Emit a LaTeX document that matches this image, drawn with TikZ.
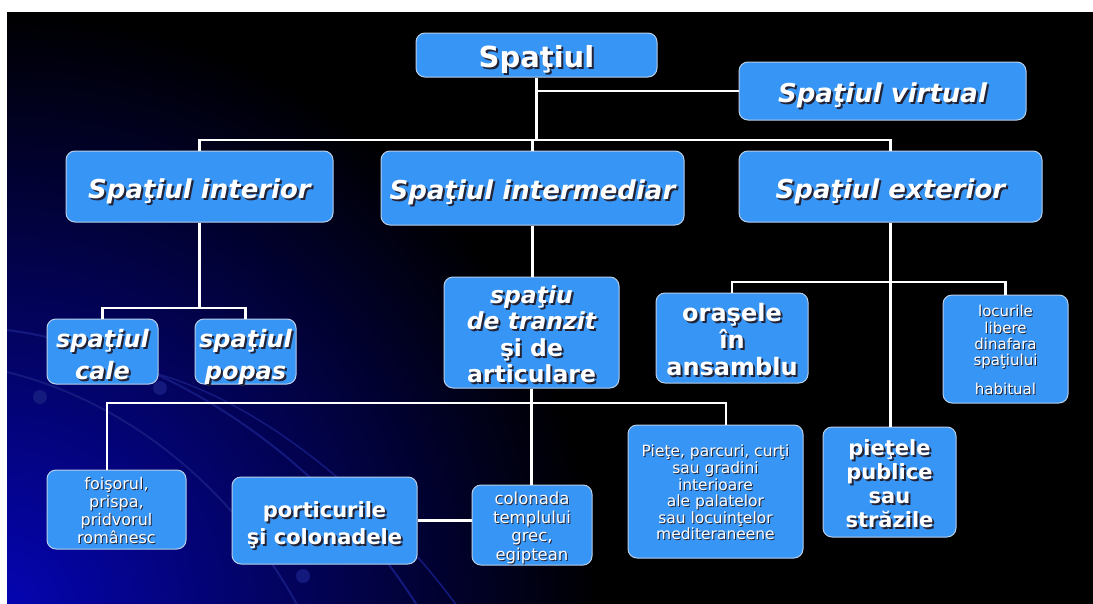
\documentclass[tikz,border=0pt]{standalone}
\usepackage{fontspec}
\setmainfont{DejaVu Sans}
\usetikzlibrary{positioning, calc}

\definecolor{boxblue}{RGB}{55,150,245}
\definecolor{boxedge}{RGB}{185,205,230}
\definecolor{shadow}{RGB}{35,35,55}
\definecolor{glow}{RGB}{5,5,180}
\definecolor{arcblue}{RGB}{20,25,125}

% white text with a dark drop shadow, lines split by \\
\newcommand{\sh}[2][1.8pt]{%
  \raisebox{-.22em}[\height][\depth]{%
  \rlap{\kern#1\raisebox{-#1}[0pt][0pt]{\color{shadow}\begin{tabular}{@{}c@{}}#2\end{tabular}}}%
  \begin{tabular}{@{}c@{}}#2\end{tabular}}}

\tikzstyle{box} = [rectangle, rounded corners=9pt, draw=boxedge, line width=1pt, fill=boxblue, text=white, inner sep=0pt]
\tikzstyle{head} = [box, font=\bfseries\itshape\fontsize{26}{30}\selectfont]
\tikzstyle{small} = [box, font=\fontsize{16}{18}\selectfont]
\tikzstyle{link} = [white, line width=2.6pt]

\begin{document}
\begin{tikzpicture}[x=1pt, y=-1pt]
	\useasboundingbox (0,0) rectangle (1093,603);

	% Background
	\fill[white] (-5,-5) rectangle (1100,610);
	\fill[black] (7,12) rectangle (1100,610);
	\begin{scope}
		\clip (7,12) rectangle (1100,610);
		\shade[inner color=glow, outer color=black] (0,610) circle (600);
		\draw[arcblue, line width=2pt] (7,330) .. controls (160,350) and (320,450) .. (420,610);
		\draw[arcblue, line width=2pt] (7,372) .. controls (120,400) and (230,480) .. (300,610);
		\draw[arcblue, line width=1.5pt] (150,372) .. controls (260,400) and (380,500) .. (460,610);
		\fill[arcblue] (40,397) circle (7) (160,388) circle (7) (303,576) circle (7);
	\end{scope}

	% Top
	\node (root) [box, font=\bfseries\fontsize{29}{32}\selectfont, minimum width=241, minimum height=44] at (536.5,55) {\sh[2pt]{Spaţiul}};
	\node (virt) [head, minimum width=287, minimum height=58] at (882.5,91) {\sh[2pt]{Spaţiul virtual}};

	% Level 1
	\node (inter) [head, minimum width=267, minimum height=71] at (199.5,186.5) {\sh[2pt]{Spaţiul interior}};
	\node (interm) [head, minimum width=303, minimum height=74] at (532.5,188) {\sh[2pt]{Spaţiul intermediar}};
	\node (exter) [head, minimum width=303, minimum height=71] at (890.5,186.5) {\sh[2pt]{Spaţiul exterior}};

	% Level 2
	\node (cale) [box, font=\bfseries\itshape\fontsize{24}{32}\selectfont, minimum width=111, minimum height=65] at (102.5,351.5) {\sh[2pt]{spaţiul\\cale}};
	\node (popas) [box, font=\bfseries\itshape\fontsize{24}{32}\selectfont, minimum width=101, minimum height=65] at (245.5,351.5) {\sh[2pt]{spaţiul\\popas}};
	\node (tranzit) [box, font=\bfseries\fontsize{23.5}{26.5}\selectfont, minimum width=175, minimum height=111] at (531.5,332.5) {\sh[2pt]{{\itshape spaţiu}\\{\itshape de tranzit}\\şi de\\articulare}};
	\node (orase) [box, font=\bfseries\fontsize{24}{26}\selectfont, minimum width=152, minimum height=90] at (732,338) {\sh[2pt]{oraşele\\în\\ansamblu}};
	\node (locuri) [small, font=\fontsize{15}{15.7}\selectfont, minimum width=125, minimum height=108] at (1005.5,349) {\sh[1pt]{locurile\\libere\\dinafara\\spaţiului\\[13pt]habitual}};

	% Level 3
	\node (foisor) [small, minimum width=139, minimum height=79] at (116.5,509.5) {\sh[1pt]{foişorul,\\prispa,\\pridvorul\\românesc}};
	\node (portic) [box, font=\bfseries\fontsize{21}{27}\selectfont, minimum width=185, minimum height=87] at (324.5,520.5) {\sh[2pt]{porticurile\\şi colonadele}};
	\node (colon) [small, font=\fontsize{16.5}{18.5}\selectfont, minimum width=120, minimum height=80] at (532,525) {\sh[1pt]{colonada\\templului\\grec,\\egiptean}};
	\node (piete) [small, font=\fontsize{15.5}{16}\selectfont, minimum width=175, minimum height=133] at (715.5,491.5) {\sh[1pt]{Pieţe, parcuri, curţi\\sau gradini\\interioare\\ale palatelor\\sau locuinţelor\\mediteraneene}};
	\node (pietele) [box, font=\bfseries\fontsize{21}{24}\selectfont, minimum width=133, minimum height=110] at (889.5,482) {\sh[2pt]{pieţele\\publice\\sau\\străzile}};

	% Connectors from the top
	\coordinate (bar1) at (536.5,140);
	\draw[link] (root.south) -- (bar1);
	\draw[link] (root.south |- virt.west) -- (virt.west);
	\draw[link] (inter.north) |- (bar1) -| (exter.north);
	\draw[link] (bar1 -| interm.north) -- (interm.north);

	% Interior
	\coordinate (bar2) at (199.5,308);
	\draw[link] (inter.south) -- (bar2);
	\draw[link] (cale.north) |- (bar2) -| (popas.north);

	% Intermediar
	\draw[link] (interm.south) -- (interm.south |- tranzit.north);
	\coordinate (bar3) at (531.5,403);
	\draw[link] (tranzit.south) -- (tranzit.south |- colon.north);
	\draw[link] ([xshift=-9.5pt]foisor.north) |- (bar3) -| ([xshift=10.5pt]piete.north);
	\draw[link] (portic.east) -- (portic.east -| colon.west);

	% Exterior
	\coordinate (bar4) at (890.5,282);
	\draw[link] (exter.south) -- (exter.south |- pietele.north);
	\draw[link] (orase.north) |- (bar4) -| (locuri.north);

\end{tikzpicture}
\end{document}
